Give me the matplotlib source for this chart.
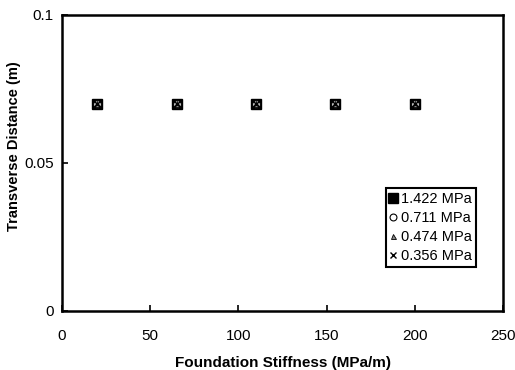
import matplotlib
matplotlib.use("Agg")
import matplotlib.pyplot as plt

plt.rcParams['font.family'] = ['Liberation Sans', 'DejaVu Sans']

stiffness = [20, 65, 110, 155, 200]
dist_1422 = [0.07, 0.07, 0.07, 0.07, 0.07]
dist_0711 = [0.07, 0.07, 0.07, 0.07, 0.07]
dist_0474 = [0.07, 0.07, 0.07, 0.07, 0.07]
dist_0356 = [0.07, 0.07, 0.07, 0.07, 0.07]
labels = ['1.422 MPa', '0.711 MPa', '0.474 MPa', '0.356 MPa']

fig = plt.figure(figsize=(5.15, 3.70), dpi=100)
ax = fig.add_axes([0.1204, 0.1595, 0.8563, 0.8])

ax.plot(stiffness, dist_1422, ls='none', marker='s', ms=7.5, mfc='black', mec='black', label=labels[0])
ax.plot(stiffness, dist_0711, ls='none', marker='o', ms=5.5, mfc='white', mec='black', mew=0.8, label=labels[1])
ax.plot(stiffness, dist_0474, ls='none', marker='^', ms=4, mfc='#888888', mec='black', mew=0.6, label=labels[2])
ax.plot(stiffness, dist_0356, ls='none', marker='x', ms=5, mec='black', mew=1.0, label=labels[3])

ax.set_xlim(0, 250)
ax.set_ylim(0, 0.1)
ax.set_xticks([0, 50, 100, 150, 200, 250])
ax.set_yticks([0, 0.05, 0.1])
ax.set_yticklabels(['0', '0.05', '0.1'])
ax.tick_params(direction='in', length=4, width=1.2, labelsize=11)
ax.tick_params(axis='x', pad=13)
ax.tick_params(axis='y', pad=6)
for s in ax.spines.values():
    s.set_linewidth(1.8)

ax.set_xlabel('Foundation Stiffness (MPa/m)', fontsize=11, fontweight='bold', labelpad=9)
ax.set_ylabel('Transverse Distance (m)', fontsize=10.5, fontweight='bold')
ax.yaxis.set_label_coords(-0.092, 0.557)

leg = ax.legend(loc='upper left', bbox_to_anchor=(0.735, 0.4155), fontsize=10.5,
                fancybox=False, framealpha=1, edgecolor='black', borderpad=0.25,
                handlelength=0.5, handletextpad=0.3, labelspacing=0.35, borderaxespad=0,
                markerscale=0.9)
leg.get_frame().set_linewidth(1.5)

fig.savefig('out.png', dpi=100)
